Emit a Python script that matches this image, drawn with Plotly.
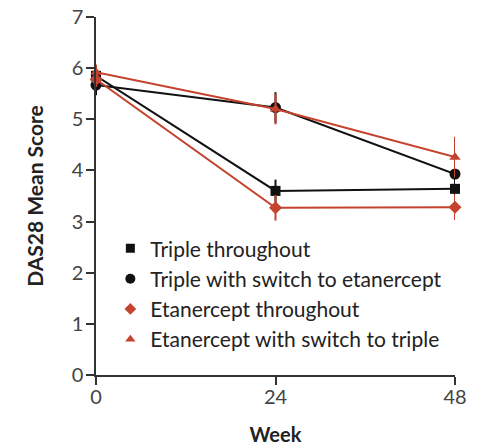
import plotly.graph_objects as go

weeks = [0, 24, 48]
names = ["Triple throughout", "Triple with switch to etanercept",
         "Etanercept throughout", "Etanercept with switch to triple"]
triple_throughout = [5.85, 3.60, 3.64]
triple_switch = [5.67, 5.23, 3.93]
etan_throughout = [5.78, 3.27, 3.28]
etan_switch = [5.92, 5.20, 4.26]
err_triple_throughout = [0.15, 0.22, 0.15]
err_triple_switch = [0.2, 0.3, 0.15]
err_etan_throughout = [0.15, 0.25, 0.25]
err_etan_switch = [0.15, 0.3, 0.4]

BLACK = "#111111"
RED = "#c5432e"
series = [
    (names[0], triple_throughout, err_triple_throughout, BLACK, "square"),
    (names[1], triple_switch, err_triple_switch, BLACK, "circle"),
    (names[2], etan_throughout, err_etan_throughout, RED, "diamond"),
    (names[3], etan_switch, err_etan_switch, RED, "triangle-up"),
]
sizes = {"square": 10, "circle": 11, "diamond": 10, "triangle-up": 10}

fig = go.Figure()
for i, (nm, ys, es, col, sym) in enumerate(series):
    fig.add_trace(go.Scatter(
        x=weeks, y=ys, mode="lines+markers", showlegend=False,
        line=dict(color=col, width=2),
        marker=dict(color=col, symbol=sym, size=sizes[sym]),
        error_y=dict(type="data", array=es, color=col, thickness=2, width=0),
        cliponaxis=False))
for i, (nm, ys, es, col, sym) in enumerate(series):
    fig.add_trace(go.Scatter(
        x=[None], y=[None], mode="markers", name=nm, legendgroup=str(i),
        marker=dict(color=col, symbol=sym, size=sizes[sym] - 1)))

fig.update_layout(
    width=487, height=446,
    margin=dict(l=96, r=32, t=17, b=71),
    plot_bgcolor="white", paper_bgcolor="white",
    font=dict(family="Lato, Open Sans, sans-serif", size=20, color="#222"),
    legend=dict(x=0.04, y=0.41, xanchor="left", yanchor="top",
                bgcolor="rgba(0,0,0,0)", font=dict(size=21, color="#222"),
                traceorder="grouped", tracegroupgap=0, itemwidth=30),
    xaxis=dict(range=[0, 48], tickvals=weeks, ticks="outside", ticklen=8,
               tickwidth=1.5, tickcolor="#333", showline=True, linecolor="#333",
               linewidth=1.5, showgrid=False, zeroline=False, automargin=False,
               ticklabelstandoff=-5,
               title=dict(text="<b>Week</b>", font=dict(size=20), standoff=28),
               tickfont=dict(size=20, color="#444")),
    yaxis=dict(range=[0, 7], tickvals=list(range(8)), ticks="outside", ticklen=8,
               tickwidth=1.5, tickcolor="#333", showline=True, linecolor="#333",
               linewidth=1.5, showgrid=False, zeroline=False, automargin=False,
               ticklabelstandoff=-1,
               title=dict(text="<b>DAS28 Mean Score</b>", font=dict(size=21), standoff=22),
               tickfont=dict(size=20, color="#444")),
)
fig.write_html("out.html", config={"displayModeBar": False},
               post_script="document.body.style.margin='0';document.body.style.overflow='hidden';")
